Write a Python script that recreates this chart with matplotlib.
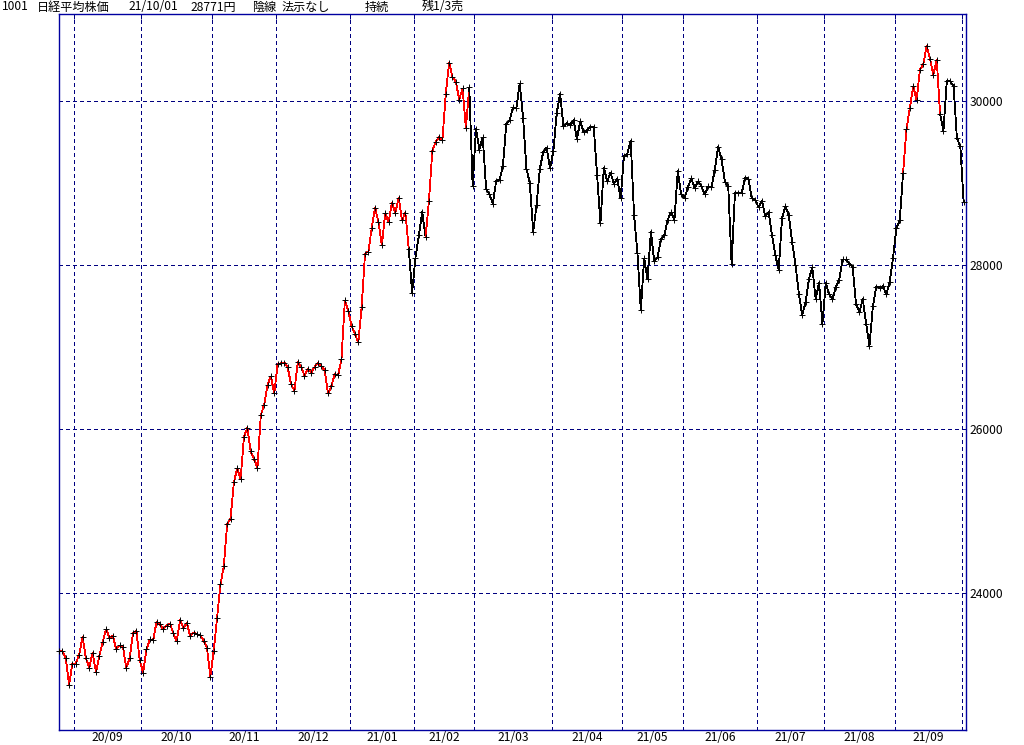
import numpy as np
import matplotlib
matplotlib.use('Agg')
import matplotlib.pyplot as plt
from matplotlib.collections import LineCollection

plt.rcParams['font.family'] = ['Noto Sans CJK JP', 'DejaVu Sans']

# header line of the chart
header_parts = ['1001', '日経平均株価', '21/10/01', '28771円', '陰線', '法示なし', '持続', '残1/3売']

# month labels and number of trading days plotted in each month
month_labels = ['20/08', '20/09', '20/10', '20/11', '20/12', '21/01', '21/02', '21/03',
                '21/04', '21/05', '21/06', '21/07', '21/08', '21/09', '21/10']
month_days = [5, 20, 21, 19, 22, 19, 18, 23, 21, 18, 22, 20, 21, 20, 1]

# daily closes, month by month
close_2008 = [23296, 23290, 23209, 22882, 23140]
close_2009 = [23139, 23247, 23466, 23205, 23089, 23274, 23032, 23235, 23406, 23559,
              23454, 23475, 23319, 23360, 23346, 23087, 23204, 23511, 23539, 23185]
close_2010 = [23029, 23312, 23433, 23422, 23647, 23619, 23558, 23601, 23626, 23507,
              23410, 23671, 23567, 23639, 23474, 23516, 23494, 23485, 23418, 23331, 22977]
close_2011 = [23295, 23695, 24105, 24325, 24839, 24905, 25349, 25520, 25385, 25906,
              26014, 25728, 25634, 25527, 26165, 26296, 26537, 26644, 26433]
close_2012 = [26787, 26800, 26809, 26751, 26547, 26467, 26817, 26756, 26652, 26732, 26687,
              26757, 26806, 26763, 26714, 26436, 26524, 26668, 26656, 26854, 27568, 27444]
close_2101 = [27258, 27158, 27055, 27490, 28139, 28164, 28456, 28698, 28519, 28242,
              28633, 28523, 28756, 28631, 28822, 28546, 28635, 28197, 27663]
close_2102 = [28091, 28362, 28646, 28341, 28779, 29388, 29505, 29562, 29520, 30084,
              30467, 30292, 30236, 30017, 30156, 29671, 30168, 28966]
close_2103 = [29663, 29408, 29559, 28930, 28864, 28743, 29028, 29036, 29211, 29717, 29766, 29921,
              29914, 30216, 29792, 29174, 28995, 28405, 28729, 29176, 29384, 29432, 29178]
close_2104 = [29388, 29854, 30089, 29696, 29730, 29708, 29768, 29538, 29751, 29620,
              29643, 29683, 29685, 29100, 28508, 29188, 29020, 29126, 28991, 29053, 28812]
close_2105 = [29331, 29357, 29518, 28608, 28147, 27448, 28084, 27824, 28406, 28044,
              28098, 28317, 28364, 28553, 28642, 28549, 29149, 28860]
close_2106 = [28814, 28946, 29058, 28941, 29019, 28963, 28860, 28958, 28948, 29161, 29441,
              29291, 29018, 28964, 28010, 28884, 28874, 28875, 29066, 29048, 28812, 28792]
close_2107 = [28707, 28783, 28598, 28643, 28366, 28118, 27940, 28569, 28718, 28608,
              28279, 28003, 27652, 27388, 27548, 27833, 27970, 27581, 27782, 27283]
close_2108 = [27781, 27641, 27584, 27728, 27820, 28070, 28070, 28015, 27977, 27523,
              27424, 27585, 27281, 27013, 27494, 27732, 27724, 27742, 27641, 27789, 28089]
close_2109 = [28451, 28543, 29128, 29659, 29916, 30181, 30008, 30381, 30447, 30670,
              30511, 30323, 30500, 29839, 29639, 30248, 30240, 30183, 29544, 29452]
close_2110 = [28771]

# day indices (segment end points) drawn in red
red_spans = [(1, 104), (110, 122), (252, 262)]

closes = np.array(close_2008 + close_2009 + close_2010 + close_2011 + close_2012 +
                  close_2101 + close_2102 + close_2103 + close_2104 + close_2105 +
                  close_2106 + close_2107 + close_2108 + close_2109 + close_2110, dtype=float)
x = np.arange(len(closes))

red = np.zeros(len(closes), dtype=bool)
for a, b in red_spans:
    red[a:b + 1] = True

navy = '#000080'
dash = (0, (4, 3))

fig = plt.figure(figsize=(10.24, 7.45), dpi=100)
ax = fig.add_axes([59 / 1024, 15 / 745, 907 / 1024, 716 / 745])

# grid
yticks = [24000, 26000, 28000, 30000]
starts = np.cumsum([0] + month_days[:-1])
bounds = starts[1:] - 0.5
for yv in yticks:
    ax.axhline(yv, color=navy, lw=0.72, ls=dash, zorder=1, antialiased=False)
for bv in bounds:
    ax.axvline(bv, color=navy, lw=0.72, ls=dash, zorder=1, antialiased=False)

# price line, red / black by segment
pts = np.column_stack([x, closes])
segs = np.stack([pts[:-1], pts[1:]], axis=1)
seg_colors = ['#ff0000' if red[i + 1] else 'black' for i in range(len(segs))]
ax.add_collection(LineCollection(segs, colors=seg_colors, linewidths=0.6,
                                 antialiaseds=False, zorder=2))
ax.plot(x, closes, ls='none', marker='+', ms=3.8, mew=0.7, color='black',
        zorder=3, clip_on=False, antialiased=False)

ax.set_xlim(0, 269.7)
ax.set_ylim(22329, 31061)

# x axis: top ticks at month boundaries, labels centered in each full month
ax.set_xticks(bounds)
ax.set_xticklabels([])
ax.tick_params(axis='x', which='major', top=True, bottom=False, direction='in',
               length=3.5, width=0.72, color=navy)
centers = (bounds[:-1] + bounds[1:]) / 2
ax.set_xticks(centers, minor=True)
ax.set_xticklabels(month_labels[1:-1], minor=True)
ax.tick_params(axis='x', which='minor', length=0, pad=1, labelsize=8.7)

ax.yaxis.tick_right()
ax.set_yticks(yticks)
ax.set_yticklabels([str(v) for v in yticks])
ax.tick_params(axis='y', length=0, pad=2.5, labelsize=8.7)

for sp in ax.spines.values():
    sp.set_color('#0000a0')
    sp.set_linewidth(1.0)

header_x = [2, 37, 128, 190, 252, 282, 365, 422]
for px, part in zip(header_x, header_parts):
    fig.text(px / 1024, 1 - 7 / 745, part, ha='left', va='center', fontsize=8.7)

fig.savefig('out.png', dpi=100)
